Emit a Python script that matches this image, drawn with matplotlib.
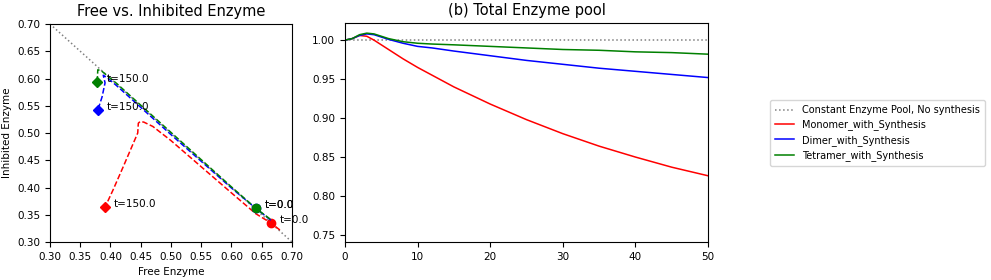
import numpy as np
import matplotlib.pyplot as plt

# left panel: trajectories (free enzyme, inhibited enzyme)
mono_free = [0.680, 0.665, 0.640, 0.600, 0.550, 0.500, 0.470, 0.455, 0.449, 0.446, 0.445, 0.421, 0.404, 0.391]
mono_inh = [0.322, 0.335, 0.352, 0.390, 0.438, 0.486, 0.512, 0.520, 0.521, 0.518, 0.500, 0.438, 0.395, 0.364]
dim_free = [0.665, 0.640, 0.600, 0.550, 0.500, 0.450, 0.410, 0.395, 0.388, 0.391, 0.386, 0.379]
dim_inh = [0.340, 0.362, 0.399, 0.448, 0.497, 0.547, 0.587, 0.601, 0.606, 0.592, 0.566, 0.542]
tet_free = [0.664, 0.640, 0.600, 0.550, 0.500, 0.450, 0.410, 0.385, 0.379, 0.378]
tet_inh = [0.342, 0.362, 0.401, 0.451, 0.501, 0.551, 0.591, 0.614, 0.616, 0.594]

# right panel: total enzyme pool vs time
t = [0, 1, 2, 3, 4, 5, 6, 8, 10, 12, 15, 20, 25, 30, 35, 40, 45, 50]
mono_tot = [1.000, 1.002, 1.006, 1.005, 1.000, 0.994, 0.988, 0.976, 0.965, 0.955, 0.940, 0.918, 0.898, 0.880, 0.864, 0.850, 0.837, 0.826]
dim_tot = [1.000, 1.002, 1.006, 1.008, 1.007, 1.004, 1.001, 0.996, 0.992, 0.990, 0.986, 0.980, 0.974, 0.969, 0.964, 0.960, 0.956, 0.952]
tet_tot = [1.000, 1.002, 1.007, 1.009, 1.008, 1.005, 1.002, 0.998, 0.996, 0.995, 0.994, 0.992, 0.990, 0.988, 0.987, 0.985, 0.984, 0.982]

labels = ['Constant Enzyme Pool, No synthesis', 'Monomer_with_Synthesis',
          'Dimer_with_Synthesis', 'Tetramer_with_Synthesis']

plt.rcParams['font.size'] = 7.5
plt.rcParams['lines.linewidth'] = 1.1

fig = plt.figure(figsize=(9.91, 2.8), dpi=100)
ax1 = fig.add_axes([50/991, 38/280, 242/991, 218/280])
ax2 = fig.add_axes([345/991, 38/280, 363/991, 219/280])

# left
ax1.plot([0.3, 0.7], [0.7, 0.3], ':', color='gray')
for fx, iy, c in [(mono_free, mono_inh, 'red'), (dim_free, dim_inh, 'blue'), (tet_free, tet_inh, 'green')]:
    ax1.plot(fx, iy, '--', color=c)
    ax1.plot(fx[1], iy[1], 'o', color=c, ms=6)
    ax1.plot(fx[-1], iy[-1], 'D', color=c, ms=5)
    ax1.text(fx[1] + 0.015, iy[1], 't=0.0')
    ax1.text(fx[-1] + 0.015, iy[-1], 't=150.0')
ax1.set_xlim(0.3, 0.7)
ax1.set_ylim(0.3, 0.7)
ax1.set_xticks(np.arange(0.3, 0.701, 0.05))
ax1.set_yticks(np.arange(0.3, 0.701, 0.05))
ax1.set_xlabel('Free Enzyme')
ax1.set_ylabel('Inhibited Enzyme')
ax1.set_title('Free vs. Inhibited Enzyme', fontsize=10.5)

# right
ax2.plot([0, 50], [1.0, 1.0], ':', color='gray', label=labels[0])
ax2.plot(t, mono_tot, color='red', label=labels[1])
ax2.plot(t, dim_tot, color='blue', label=labels[2])
ax2.plot(t, tet_tot, color='green', label=labels[3])
ax2.set_xlim(0, 50)
ax2.set_ylim(0.741, 1.022)
ax2.set_title('(b) Total Enzyme pool', fontsize=10.5)

fig.legend(loc='center left', bbox_to_anchor=(765/991, 0.525), fontsize=7,
           handlelength=2.0, borderpad=0.5, labelspacing=0.45)

fig.savefig('out.png', dpi=100, facecolor='white')
